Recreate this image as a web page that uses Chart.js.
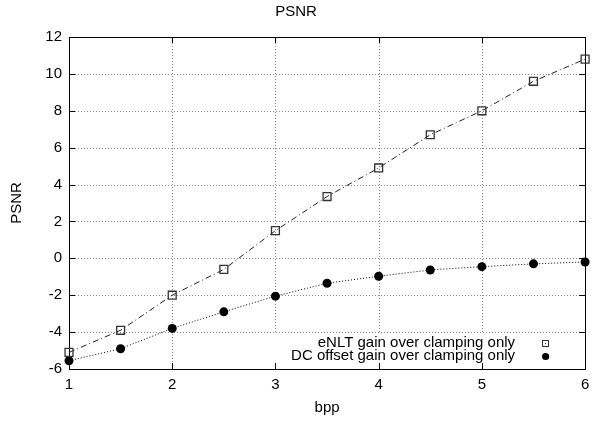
<!DOCTYPE html>
<html><head><meta charset="utf-8">
<script src="https://cdn.jsdelivr.net/npm/chart.js@4/dist/chart.umd.min.js"></script>
<style>html,body{margin:0;padding:0;background:#fff}#wrap{width:592px;height:422px}</style>
</head><body><div id="wrap"><canvas id="c" width="592" height="422"></canvas></div>
<script>
const bpp = [1, 1.5, 2, 2.5, 3, 3.5, 4, 4.5, 5, 5.5, 6];
const enltGain = [-5.1, -3.9, -2.0, -0.6, 1.5, 3.35, 4.9, 6.7, 8.0, 9.6, 10.8];
const dcOffsetGain = [-5.55, -4.9, -3.8, -2.9, -2.05, -1.35, -0.97, -0.63, -0.45, -0.3, -0.2];
const seriesLabels = ['eNLT gain over clamping only', 'DC offset gain over clamping only'];
const xTicks = [1, 2, 3, 4, 5, 6];
const yTicks = [-6, -4, -2, 0, 2, 4, 6, 8, 10, 12];
const chartTitle = 'PSNR';
const xTitle = 'bpp';
const yTitle = 'PSNR';

const FONT = '"Liberation Sans", Arial, sans-serif';
const FS = 15;

const framePlugin = {
  id: 'frame',
  beforeDraw(chart) {
    const ctx = chart.ctx;
    ctx.save();
    ctx.fillStyle = '#fff';
    ctx.fillRect(0, 0, chart.width, chart.height);
    ctx.restore();
  },
  beforeDatasetsDraw(chart) {
    const {ctx, chartArea: a, scales: {x, y}} = chart;
    ctx.save();
    ctx.lineWidth = 1;
    ctx.strokeStyle = '#8a8a8a';
    ctx.setLineDash([1, 2]);
    xTicks.forEach(v => {
      const px = Math.round(x.getPixelForValue(v)) + 0.5;
      ctx.beginPath(); ctx.moveTo(px, a.top); ctx.lineTo(px, a.bottom); ctx.stroke();
    });
    yTicks.forEach(v => {
      const py = Math.round(y.getPixelForValue(v)) + 0.5;
      ctx.beginPath(); ctx.moveTo(a.left, py); ctx.lineTo(a.right, py); ctx.stroke();
    });
    ctx.setLineDash([]);
    ctx.strokeStyle = '#000';
    const L = 6;
    xTicks.forEach(v => {
      const px = Math.round(x.getPixelForValue(v)) + 0.5;
      ctx.beginPath(); ctx.moveTo(px, a.bottom); ctx.lineTo(px, a.bottom - L);
      ctx.moveTo(px, a.top); ctx.lineTo(px, a.top + L); ctx.stroke();
    });
    yTicks.forEach(v => {
      const py = Math.round(y.getPixelForValue(v)) + 0.5;
      ctx.beginPath(); ctx.moveTo(a.left, py); ctx.lineTo(a.left + L, py);
      ctx.moveTo(a.right, py); ctx.lineTo(a.right - L, py); ctx.stroke();
    });
    ctx.strokeRect(Math.round(a.left) + 0.5, Math.round(a.top) + 0.5,
      Math.round(a.right - a.left), Math.round(a.bottom - a.top));
    ctx.restore();
  },
  afterDatasetsDraw(chart) {
    const {ctx, chartArea: a} = chart;
    ctx.save();
    ctx.fillStyle = '#fff';
    ctx.fillRect(200, a.bottom - 35, a.right - 201, 28);
    ctx.fillStyle = '#000';
    ctx.font = FS + 'px ' + FONT;
    ctx.textAlign = 'right';
    ctx.textBaseline = 'middle';
    const tx = a.right - 70;
    const sx = a.right - 40;
    const y1 = a.bottom - 26, y2 = a.bottom - 13;
    ctx.fillText(seriesLabels[0], tx, y1);
    ctx.fillText(seriesLabels[1], tx, y2);
    ctx.strokeStyle = '#333';
    ctx.lineWidth = 1;
    ctx.strokeRect(Math.round(sx - 3) + 0.5, Math.round(y1 - 3) + 0.5, 6, 6);
    ctx.fillStyle = '#333';
    ctx.fillRect(Math.round(sx), Math.round(y1), 1, 1);
    ctx.fillStyle = '#000';
    ctx.beginPath(); ctx.arc(sx + 0.5, y2 + 0.5, 3.6, 0, Math.PI * 2); ctx.fill();
    ctx.restore();
  }
};

new Chart(document.getElementById('c'), {
  type: 'line',
  data: {
    datasets: [
      {
        label: seriesLabels[0],
        data: bpp.map((b, i) => ({x: b, y: enltGain[i]})),
        borderColor: '#222', borderWidth: 1, borderDash: [6, 3, 1, 3],
        pointStyle: 'rect', pointRadius: 5.6, pointBorderColor: '#333', pointBorderWidth: 1.3,
        pointBackgroundColor: 'rgba(0,0,0,0)', tension: 0, clip: false
      },
      {
        label: seriesLabels[1],
        data: bpp.map((b, i) => ({x: b, y: dcOffsetGain[i]})),
        borderColor: '#000', borderWidth: 1, borderDash: [1, 2],
        pointStyle: 'circle', pointRadius: 4.5, pointBorderColor: '#000', pointBorderWidth: 0,
        pointBackgroundColor: '#000', tension: 0, clip: false
      }
    ]
  },
  options: {
    responsive: false, animation: false, devicePixelRatio: 1,
    layout: {padding: {left: 0, right: 0, top: 0, bottom: 0}},
    plugins: {
      legend: {display: false}, tooltip: {enabled: false},
      title: {display: true, text: chartTitle, color: '#000',
        font: {family: FONT, size: FS, weight: 'normal'}, padding: {top: 3, bottom: 16}}
    },
    scales: {
      x: {
        type: 'linear', min: 1, max: 6,
        afterFit(s) { s.height = 53; s.paddingLeft = 0; s.paddingRight = 0; },
        afterBuildTicks(s) { s.ticks = xTicks.map(v => ({value: v})); },
        grid: {display: false, drawTicks: false}, border: {display: false},
        ticks: {color: '#000', font: {family: FONT, size: FS}, padding: 7, maxRotation: 0},
        title: {display: true, text: xTitle, color: '#000', font: {family: FONT, size: FS}, padding: {top: 0, bottom: 5}}
      },
      y: {
        type: 'linear', min: -6, max: 12,
        afterFit(s) { s.width = 69; s.paddingTop = 0; s.paddingBottom = 0; },
        afterBuildTicks(s) { s.ticks = yTicks.map(v => ({value: v})); },
        grid: {display: false, drawTicks: false}, border: {display: false},
        ticks: {color: '#000', font: {family: FONT, size: FS}, padding: 7},
        title: {display: true, text: yTitle, color: '#000', font: {family: FONT, size: FS}, padding: {top: 8, bottom: 0}}
      }
    }
  },
  plugins: [framePlugin]
});
</script></body></html>
